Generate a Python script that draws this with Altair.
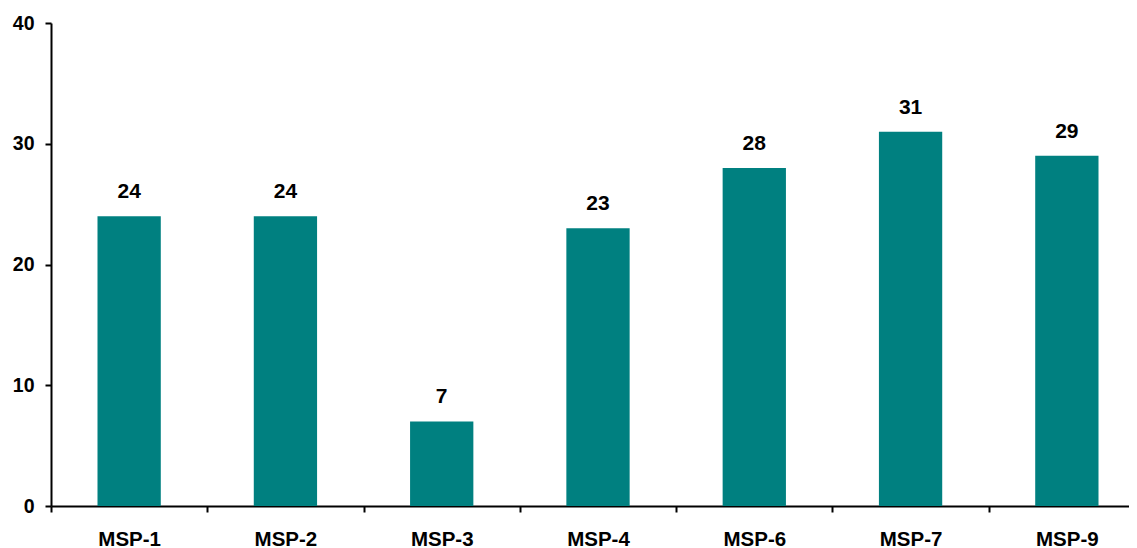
import altair as alt
import pandas as pd

categories = ["MSP-1", "MSP-2", "MSP-3", "MSP-4", "MSP-6", "MSP-7", "MSP-9"]
values = [24, 24, 7, 23, 28, 31, 29]
y_ticks = [0, 10, 20, 30, 40]

df = pd.DataFrame({"cat": categories, "val": values})

FONT = "Liberation Sans"

x = alt.X(
    "cat:N",
    sort=categories,
    title=None,
    scale=alt.Scale(range=[0, 1094], paddingInner=0, paddingOuter=0),
    axis=alt.Axis(
        labelAngle=0,
        labelFont=FONT,
        labelFontSize=20.5,
        labelFontWeight="bold",
        labelColor="black",
        labelBaseline="alphabetic",
        labelPadding=33,
        domainColor="black",
        domainWidth=2,
        tickColor="black",
        tickWidth=2,
        tickSize=6,
        tickBand="extent",
        grid=False,
    ),
)
y = alt.Y(
    "val:Q",
    title=None,
    scale=alt.Scale(domain=[0, 40], nice=False),
    axis=alt.Axis(
        values=y_ticks,
        labelFont=FONT,
        labelFontSize=19.5,
        labelFontWeight="bold",
        labelColor="black",
        labelPadding=11,
        domainColor="black",
        domainWidth=2,
        tickColor="black",
        tickWidth=2,
        tickSize=6,
        grid=False,
    ),
)

bars = alt.Chart(df).mark_bar(color="#008080", width=alt.RelativeBandSize(0.405)).encode(x=x, y=y)
labels = alt.Chart(df).mark_text(
    font=FONT, fontSize=21, fontWeight="bold", color="black", baseline="alphabetic", dy=-18
).encode(x=x, y=y, text="val:Q")

chart = (
    alt.layer(bars, labels)
    .properties(
        width=1078,
        height=483,
        background="white",
        autosize=alt.AutoSizeParams(type="none"),
        padding={"left": 43, "top": 15, "right": 0, "bottom": 42},
    )
    .configure_view(strokeWidth=0, stroke="transparent")
    .configure_axis(grid=False)
)

chart.save("out.html", embed_options={"renderer": "svg", "actions": False})
